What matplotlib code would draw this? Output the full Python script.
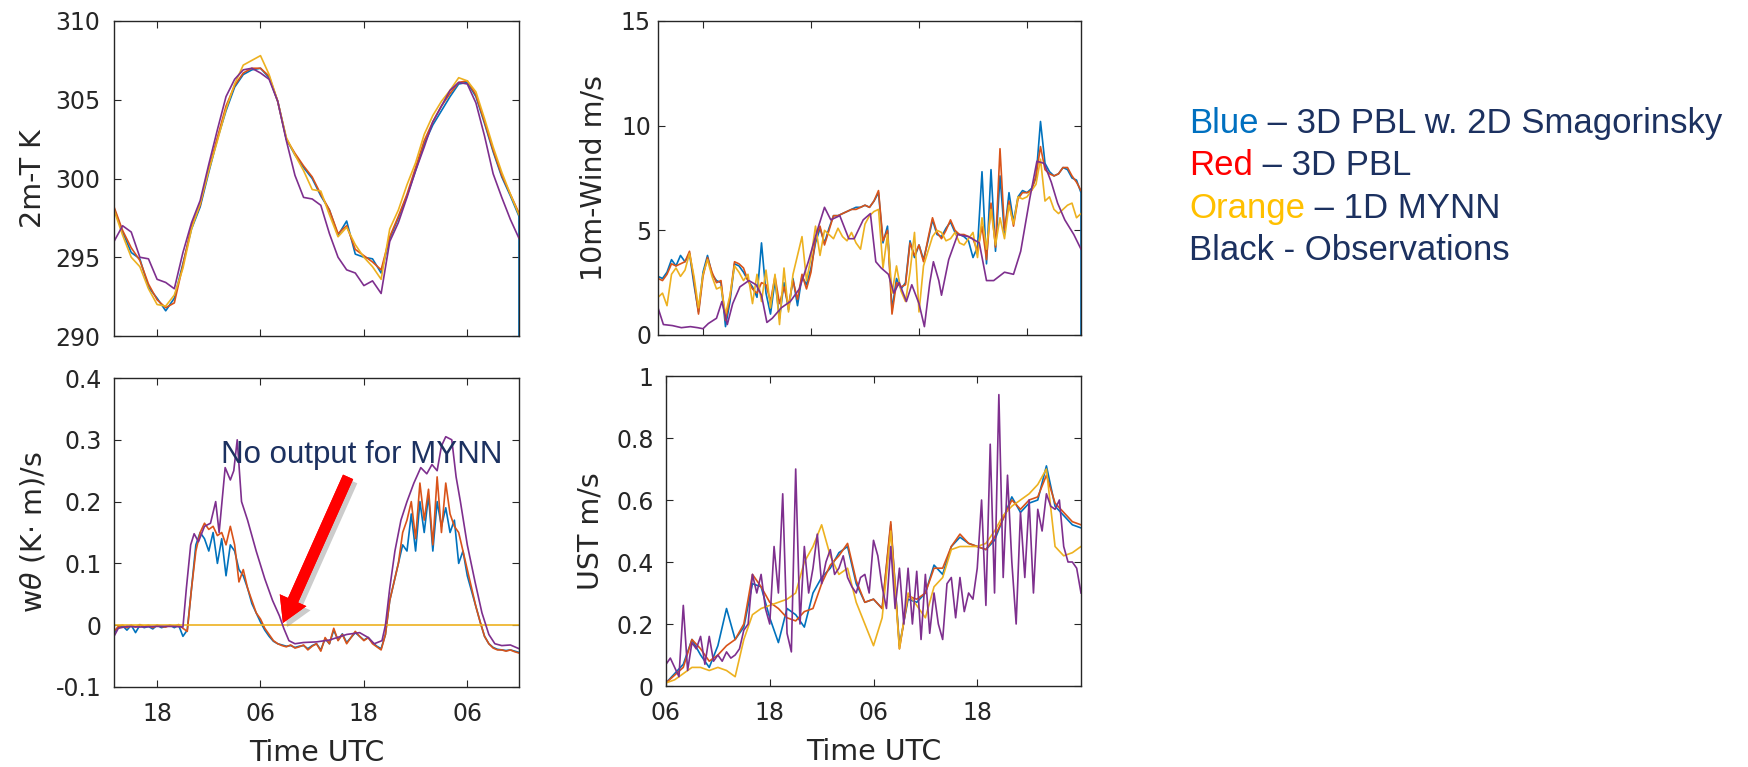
import numpy as np
import matplotlib
matplotlib.use("Agg")
import matplotlib.pyplot as plt
import matplotlib.patheffects as pe

# ---------------- data (hours since day-0 00 UTC) ----------------
# 2 m temperature, hourly 13h..60h
t2m_start = 13
t2m_obs = [296.0, 297.0, 296.6, 295.0, 294.9, 293.6, 293.4, 293.0, 295.3, 297.2,
           298.6, 300.9, 303.1, 305.2, 306.3, 306.9, 307.0, 306.7, 306.3, 304.9,
           302.4, 300.2, 298.8, 298.7, 298.3, 296.5, 295.0, 294.2, 294.0, 293.2,
           293.5, 292.7, 296.0, 297.2, 298.8, 300.5, 302.0, 303.6, 304.6, 305.6,
           306.1, 306.0, 304.8, 302.7, 300.3, 298.8, 297.4, 296.2]
t2m_pbl3d = [298.2, 296.7, 295.6, 294.8, 293.3, 292.3, 291.8, 292.1, 294.5, 297.0,
             298.3, 300.6, 302.6, 304.6, 305.9, 306.7, 307.0, 307.0, 306.5, 304.9,
             302.5, 301.6, 300.8, 300.1, 299.0, 298.0, 296.5, 297.0, 295.5, 295.1,
             294.7, 294.2, 296.3, 297.6, 299.0, 300.7, 302.4, 303.6, 304.6, 305.4,
             306.1, 306.2, 305.3, 303.6, 301.8, 300.2, 299.0, 297.8]
# last value: the blue run drops off the axis at the final time
t2m_smag = [298.1, 296.6, 295.3, 294.9, 293.1, 292.4, 291.6, 292.4, 294.6, 296.8,
            298.2, 300.4, 302.5, 304.3, 305.8, 306.6, 306.9, 307.0, 306.4, 304.9,
            302.5, 301.5, 300.7, 300.0, 298.9, 298.0, 296.4, 297.3, 295.2, 295.0,
            294.9, 294.0, 296.2, 297.5, 298.9, 300.5, 302.2, 303.4, 304.3, 305.2,
            306.0, 306.1, 305.2, 303.5, 301.7, 300.1, 298.9, 297.6, 290.0]
t2m_mynn = [298.0, 296.4, 295.0, 294.4, 293.0, 292.0, 291.9, 292.6, 294.3, 296.8,
            298.4, 300.5, 302.4, 304.4, 306.0, 307.2, 307.5, 307.8, 306.6, 304.9,
            302.6, 301.5, 300.5, 299.3, 299.2, 297.7, 296.3, 296.9, 295.8, 295.0,
            294.4, 293.6, 296.8, 298.0, 299.6, 301.0, 302.8, 304.0, 304.9, 305.6,
            306.4, 306.2, 305.5, 303.8, 302.0, 300.4, 299.0, 297.7]

# 10 m wind, half-hourly 13h..60h (models); observations at irregular times
wind_start = 13
wind_pbl3d = [2.7, 2.6, 2.9, 3.4, 3.3, 3.4, 3.5, 4.0, 2.6, 1.0,
              2.8, 3.7, 3.0, 2.5, 2.6, 0.7, 1.8, 3.5, 3.4, 3.2,
              2.6, 2.2, 2.0, 2.5, 2.4, 1.6, 2.8, 1.5, 2.3, 1.4,
              2.6, 1.7, 2.9, 2.2, 3.0, 4.6, 5.2, 4.3, 5.0, 5.7,
              5.7, 5.8, 5.9, 6.0, 6.0, 6.1, 6.2, 6.1, 6.4, 6.9,
              4.5, 5.0, 1.0, 2.5, 2.3, 2.4, 4.4, 3.8, 4.3, 3.5,
              4.6, 5.6, 4.9, 4.6, 5.0, 5.5, 5.0, 4.8, 4.8, 4.7,
              4.6, 4.0, 5.2, 3.6, 6.3, 4.2, 8.9, 5.0, 6.4, 5.2,
              6.5, 6.8, 6.8, 6.9, 7.6, 9.0, 7.9, 7.7, 7.6, 7.7,
              8.0, 8.0, 7.6, 7.3, 6.9]
wind_smag = [2.8, 2.7, 3.0, 3.6, 3.3, 3.8, 3.5, 3.9, 2.4, 1.1,
             3.0, 3.8, 2.9, 2.6, 2.5, 0.4, 1.6, 3.4, 3.3, 3.0,
             2.6, 2.3, 1.8, 4.4, 2.0, 1.0, 2.6, 0.8, 2.5, 1.2,
             2.7, 1.4, 2.8, 2.4, 3.2, 4.4, 5.1, 4.4, 5.1, 5.7,
             5.7, 5.8, 5.9, 6.0, 6.1, 6.1, 6.2, 6.1, 6.4, 6.8,
             4.4, 5.2, 1.2, 2.7, 2.2, 2.5, 4.5, 3.7, 4.3, 3.6,
             4.5, 5.5, 4.8, 4.7, 5.1, 5.4, 4.9, 4.8, 4.7, 4.5,
             3.7, 4.2, 7.8, 3.4, 7.9, 4.0, 7.6, 4.8, 6.8, 5.4,
             6.6, 6.9, 6.8, 7.0, 7.5, 10.2, 8.2, 7.8, 7.6, 7.7,
             8.0, 7.9, 7.5, 7.4, 6.8, 0.0]
wind_mynn = [1.8, 2.0, 1.4, 2.9, 3.2, 2.8, 3.1, 3.9, 2.8, 1.3,
             2.9, 3.6, 2.8, 2.2, 2.3, 1.0, 1.9, 3.3, 3.0, 2.6,
             2.9, 1.5, 2.9, 1.6, 3.1, 1.3, 2.9, 0.5, 3.2, 1.1,
             2.9, 3.8, 4.7, 2.6, 3.7, 5.2, 3.8, 5.0, 4.8, 4.6,
             5.1, 4.7, 4.5, 4.9, 4.4, 4.1, 5.3, 5.7, 5.9, 6.0,
             3.2, 4.8, 2.0, 3.3, 2.1, 1.6, 3.0, 4.9, 1.1, 3.3,
             4.0, 4.7, 5.0, 4.9, 4.5, 4.6, 4.9, 4.4, 4.3, 4.6,
             4.9, 3.7, 5.6, 4.1, 6.0, 4.3, 5.6, 4.6, 6.2, 5.3,
             6.6, 6.5, 6.6, 6.9, 7.2, 8.4, 6.4, 6.6, 6.0, 5.8,
             6.0, 6.2, 6.3, 5.6, 5.8]
wind_obs_t = [13.0, 13.6, 14.6, 15.6, 16.6, 17.4, 18.0, 18.6, 19.5, 20.1,
              20.7, 21.3, 22.1, 23.1, 23.9, 24.5, 25.1, 25.7, 26.7, 27.7,
              28.7, 29.7, 30.7, 31.5, 32.2, 33.2, 34.2, 34.8, 35.8, 36.6,
              37.2, 37.8, 38.6, 39.2, 39.8, 40.6, 41.2, 42.0, 42.6, 43.2,
              43.6, 44.2, 44.5, 45.3, 46.3, 47.5, 48.7, 49.5, 50.3, 51.5,
              52.5, 53.3, 54.3, 55.1, 55.9, 56.7, 57.4, 58.2, 59.2, 60.0]
wind_obs = [1.3, 0.5, 0.45, 0.35, 0.4, 0.35, 0.3, 0.55, 0.8, 1.6,
            0.5, 1.5, 2.3, 2.6, 2.4, 1.9, 0.6, 0.8, 1.3, 1.6,
            2.2, 3.5, 5.0, 6.1, 5.5, 5.7, 4.6, 4.6, 5.5, 5.8,
            3.5, 3.2, 2.9, 2.0, 2.5, 1.6, 2.4, 1.5, 0.4, 2.5,
            3.5, 2.6, 1.9, 3.6, 4.8, 4.7, 4.4, 2.6, 2.6, 3.0,
            2.9, 4.0, 6.5, 8.3, 8.2, 7.3, 6.3, 5.5, 4.8, 4.1]

# kinematic heat flux, half-hourly 13h..60h
wth_start = 13
wth_pbl3d = [-0.01, -0.002, 0.0, -0.004, 0.0, -0.003, 0.001, -0.002, 0.0, -0.004,
             0.0, -0.002, -0.003, 0.0, -0.002, 0.001, -0.005, -0.01, 0.06, 0.12,
             0.15, 0.165, 0.155, 0.16, 0.145, 0.15, 0.13, 0.16, 0.13, 0.07,
             0.09, 0.06, 0.04, 0.02, 0.01, -0.005, -0.015, -0.025, -0.03, -0.033,
             -0.035, -0.032, -0.037, -0.035, -0.032, -0.04, -0.034, -0.03, -0.042, -0.02,
             -0.03, -0.005, -0.025, -0.015, -0.03, -0.02, -0.01, -0.018, -0.025, -0.02,
             -0.03, -0.035, -0.04, -0.015, 0.04, 0.07, 0.1, 0.15, 0.17, 0.2,
             0.14, 0.23, 0.17, 0.22, 0.13, 0.24, 0.15, 0.23, 0.18, 0.16,
             0.15, 0.12, 0.09, 0.06, 0.03, 0.005, -0.018, -0.03, -0.037, -0.04,
             -0.04, -0.042, -0.04, -0.043, -0.045]
wth_smag = [-0.012, -0.004, -0.001, -0.008, 0.0, -0.012, 0.0, -0.004, -0.002, -0.006,
            0.0, -0.004, -0.002, 0.0, -0.004, 0.0, -0.018, -0.008, 0.06, 0.13,
            0.15, 0.14, 0.12, 0.15, 0.1, 0.14, 0.08, 0.13, 0.12, 0.09,
            0.08, 0.06, 0.035, 0.02, 0.005, -0.008, -0.018, -0.026, -0.03, -0.032,
            -0.034, -0.033, -0.036, -0.034, -0.033, -0.038, -0.033, -0.03, -0.04, -0.022,
            -0.03, -0.008, -0.024, -0.014, -0.028, -0.02, -0.012, -0.018, -0.024, -0.02,
            -0.028, -0.034, -0.038, -0.015, 0.04, 0.07, 0.1, 0.13, 0.12, 0.18,
            0.12, 0.2, 0.15, 0.21, 0.12, 0.2, 0.16, 0.19, 0.15, 0.17,
            0.1, 0.12, 0.08, 0.055, 0.03, 0.005, -0.018, -0.03, -0.036, -0.039,
            -0.04, -0.041, -0.04, -0.042, -0.044]
wth_mynn_t = [13.0, 60.0]
wth_mynn = [0.0, 0.0]
wth_obs_t = [13.0, 13.5, 14.5, 16.0, 18.0, 20.0, 21.0, 21.4, 21.9, 22.3,
             22.8, 23.5, 24.2, 24.8, 25.2, 25.9, 26.5, 26.9, 27.3, 27.8,
             28.5, 29.5, 30.5, 31.4, 32.2, 32.7, 33.3, 34.0, 35.0, 36.5,
             38.0, 40.0, 41.5, 42.5, 43.2, 44.1, 44.5, 45.0, 45.6, 46.3,
             47.0, 47.8, 48.6, 49.3, 49.9, 50.5, 51.0, 51.5, 52.2, 52.7,
             53.2, 54.0, 54.9, 55.7, 56.5, 57.2, 58.0, 59.0, 60.0]
wth_obs = [-0.018, -0.005, -0.002, -0.003, -0.002, -0.002, -0.003, 0.06, 0.13, 0.148,
           0.135, 0.16, 0.165, 0.2, 0.15, 0.255, 0.235, 0.25, 0.3, 0.2,
           0.17, 0.12, 0.075, 0.04, 0.015, -0.005, -0.025, -0.03, -0.028, -0.027,
           -0.024, -0.015, -0.012, -0.02, -0.03, -0.025, 0.0, 0.06, 0.12, 0.17,
           0.2, 0.23, 0.255, 0.245, 0.26, 0.25, 0.29, 0.305, 0.3, 0.24,
           0.2, 0.13, 0.07, 0.02, -0.015, -0.03, -0.033, -0.032, -0.038]

# friction velocity, hourly 6h..54h (models), half-hourly (obs)
ust_start = 6
ust_pbl3d = [0.01, 0.035, 0.06, 0.15, 0.12, 0.08, 0.1, 0.13, 0.15, 0.2,
             0.36, 0.32, 0.27, 0.25, 0.22, 0.21, 0.24, 0.25, 0.33, 0.39,
             0.42, 0.46, 0.34, 0.27, 0.28, 0.25, 0.53, 0.12, 0.29, 0.28,
             0.3, 0.38, 0.38, 0.45, 0.49, 0.46, 0.45, 0.44, 0.48, 0.54,
             0.6, 0.57, 0.6, 0.61, 0.68, 0.59, 0.56, 0.53, 0.52]
ust_smag = [0.01, 0.04, 0.07, 0.15, 0.1, 0.06, 0.13, 0.25, 0.15, 0.19,
            0.33, 0.32, 0.22, 0.14, 0.25, 0.23, 0.19, 0.3, 0.35, 0.38,
            0.43, 0.45, 0.33, 0.27, 0.28, 0.25, 0.52, 0.13, 0.28, 0.27,
            0.3, 0.39, 0.36, 0.45, 0.48, 0.46, 0.45, 0.44, 0.47, 0.54,
            0.61, 0.56, 0.59, 0.6, 0.71, 0.58, 0.55, 0.52, 0.51]
ust_mynn = [0.01, 0.02, 0.04, 0.06, 0.06, 0.05, 0.06, 0.05, 0.03, 0.15,
            0.23, 0.25, 0.26, 0.27, 0.28, 0.3, 0.4, 0.45, 0.52, 0.42,
            0.36, 0.38, 0.27, 0.2, 0.13, 0.22, 0.5, 0.12, 0.3, 0.26,
            0.22, 0.32, 0.35, 0.44, 0.45, 0.45, 0.45, 0.46, 0.5, 0.55,
            0.58, 0.6, 0.62, 0.65, 0.7, 0.45, 0.42, 0.43, 0.45]
ust_obs = [0.07, 0.09, 0.06, 0.03, 0.26, 0.05, 0.14, 0.12, 0.16, 0.07,
           0.16, 0.08, 0.1, 0.08, 0.11, 0.09, 0.1, 0.12, 0.18, 0.2,
           0.36, 0.3, 0.36, 0.25, 0.2, 0.45, 0.3, 0.62, 0.17, 0.11,
           0.7, 0.2, 0.45, 0.3, 0.38, 0.49, 0.33, 0.4, 0.44, 0.36,
           0.38, 0.42, 0.35, 0.32, 0.3, 0.35, 0.36, 0.3, 0.47, 0.42,
           0.32, 0.25, 0.45, 0.25, 0.38, 0.2, 0.38, 0.2, 0.37, 0.15,
           0.36, 0.17, 0.3, 0.2, 0.15, 0.33, 0.35, 0.22, 0.35, 0.24,
           0.3, 0.28, 0.38, 0.6, 0.26, 0.78, 0.3, 0.94, 0.35, 0.68,
           0.4, 0.2, 0.56, 0.35, 0.6, 0.3, 0.57, 0.5, 0.62, 0.58,
           0.57, 0.6, 0.45, 0.4, 0.4, 0.38, 0.3]

# axis ticks / labels
left_xticks = [18, 30, 42, 54]
left_xlabels = ["18", "06", "18", "06"]
ust_xticks = [6, 18, 30, 42]
ust_xlabels = ["06", "18", "06", "18"]
t2m_yticks = [290, 295, 300, 305, 310]
wind_yticks = [0, 5, 10, 15]
wth_yticks = [-0.1, 0, 0.1, 0.2, 0.3, 0.4]
wth_ylabels = ["-0.1", "0", "0.1", "0.2", "0.3", "0.4"]
ust_yticks = [0, 0.2, 0.4, 0.6, 0.8, 1]
ust_ylabels = ["0", "0.2", "0.4", "0.6", "0.8", "1"]

legend_parts = [("Blue", "#0070C0", " \u2013 3D PBL w. 2D Smagorinsky"),
                ("Red", "#FF0000", " \u2013 3D PBL"),
                ("Orange", "#FFC000", " \u2013 1D MYNN"),
                ("Black - Observations", "#1C3160", "")]

# ---------------- style ----------------
c_smag, c_pbl, c_mynn, c_obs = "#0072BD", "#D95319", "#EDB120", "#7E2F8E"
navy = "#1C3160"
axcol = "#262626"
plt.rcParams["font.family"] = "DejaVu Sans"
W, H = 1748, 767


def grid(start, vals, step):
    return start + step * np.arange(len(vals))


def px_axes(fig, x0, y0, x1, y1):
    # pixel box (left, top, right, bottom) -> figure fraction
    return fig.add_axes([x0 / W, 1 - y1 / H, (x1 - x0) / W, (y1 - y0) / H])


def style(ax, xlim, ylim, xticks, yticks, xlabels=None, ylabels=None, ypad=9):
    ax.set_xlim(xlim)
    ax.set_ylim(ylim)
    ax.set_xticks(xticks)
    ax.set_yticks(yticks)
    if xlabels is None:
        ax.set_xticklabels([])
    else:
        ax.set_xticklabels(xlabels)
    if ylabels is not None:
        ax.set_yticklabels(ylabels)
    ax.tick_params(direction="in", top=True, right=True, length=5, width=0.8,
                   labelsize=17, colors=axcol)
    ax.tick_params(axis="x", pad=11)
    ax.tick_params(axis="y", pad=ypad)
    for s in ax.spines.values():
        s.set_color(axcol)
        s.set_linewidth(1.0)


fig = plt.figure(figsize=(W / 100, H / 100), dpi=100)
ax_t2m = px_axes(fig, 114, 21, 519, 336)
ax_wind = px_axes(fig, 658, 21, 1081, 335)
ax_wth = px_axes(fig, 114, 378, 519, 687)
ax_ust = px_axes(fig, 666, 376, 1081, 686)
lw = 1.2
lab = dict(fontsize=20.5, color=axcol)

# 2m-T
t = grid(t2m_start, t2m_obs, 1.0)
ax_t2m.plot(np.r_[t, t[-1]], t2m_smag, color=c_smag, lw=lw)
ax_t2m.plot(t, t2m_pbl3d, color=c_pbl, lw=lw)
ax_t2m.plot(t, t2m_mynn, color=c_mynn, lw=lw)
ax_t2m.plot(t, t2m_obs, color=c_obs, lw=lw)
style(ax_t2m, (13, 60), (290, 310), left_xticks, t2m_yticks, ypad=10)
ax_t2m.set_ylabel("2m-T K", labelpad=6, **lab)

# wind
tw = grid(wind_start, wind_pbl3d, 0.5)
ax_wind.plot(np.r_[tw, tw[-1]], wind_smag, color=c_smag, lw=lw)
ax_wind.plot(tw, wind_pbl3d, color=c_pbl, lw=lw)
ax_wind.plot(tw, wind_mynn, color=c_mynn, lw=lw)
ax_wind.plot(wind_obs_t, wind_obs, color=c_obs, lw=lw)
style(ax_wind, (13, 60), (0, 15), left_xticks, wind_yticks, ypad=5)
ax_wind.set_ylabel("10m-Wind m/s", labelpad=10, **lab)

# w theta
th = grid(wth_start, wth_pbl3d, 0.5)
ax_wth.plot(th, wth_smag, color=c_smag, lw=lw)
ax_wth.plot(th, wth_pbl3d, color=c_pbl, lw=lw)
ax_wth.plot(wth_mynn_t, wth_mynn, color=c_mynn, lw=lw)
ax_wth.plot(wth_obs_t, wth_obs, color=c_obs, lw=lw)
style(ax_wth, (13, 60), (-0.1, 0.4), left_xticks, wth_yticks, left_xlabels, wth_ylabels)
ax_wth.set_ylabel(r"w$\theta$ (K$\cdot$ m)/s", labelpad=6, **lab)
ax_wth.set_xlabel("Time UTC", labelpad=9, **lab)

ax_wth.annotate("", xy=(0.417, 0.207), xytext=(0.578, 0.680),
                xycoords="axes fraction", textcoords="axes fraction",
                arrowprops=dict(facecolor="#FF0000", edgecolor="none", width=8,
                                headwidth=21, headlength=18, shrink=0,
                                path_effects=[pe.withSimplePatchShadow(offset=(3, -3),
                                                                       shadow_rgbFace="gray",
                                                                       alpha=0.4),
                                              pe.Normal()]))
ax_wth.text(0.264, 0.725, "No output for MYNN", transform=ax_wth.transAxes,
            fontsize=22.5, color=navy, family="Liberation Sans", va="baseline")

# UST
tu = grid(ust_start, ust_pbl3d, 1.0)
tuo = grid(ust_start, ust_obs, 0.5)
ax_ust.plot(tu, ust_smag, color=c_smag, lw=lw)
ax_ust.plot(tu, ust_pbl3d, color=c_pbl, lw=lw)
ax_ust.plot(tu, ust_mynn, color=c_mynn, lw=lw)
ax_ust.plot(tuo, ust_obs, color=c_obs, lw=lw)
style(ax_ust, (6, 54), (0, 1), ust_xticks, ust_yticks, ust_xlabels, ust_ylabels)
ax_ust.set_ylabel("UST m/s", labelpad=8, **lab)
ax_ust.set_xlabel("Time UTC", labelpad=9, **lab)

# colour key text on the right
base_y = [133, 175, 218, 260]
fig.canvas.draw()
for (word, col, rest), by in zip(legend_parts, base_y):
    tx = fig.text(1189 / W, 1 - by / H, word, color=col, fontsize=25,
                  family="Liberation Sans", va="baseline")
    if rest:
        bb = tx.get_window_extent(renderer=fig.canvas.get_renderer())
        fig.text(bb.x1 / W, 1 - by / H, rest, color=navy, fontsize=25,
                 family="Liberation Sans", va="baseline")

fig.savefig("out.png", dpi=100)
